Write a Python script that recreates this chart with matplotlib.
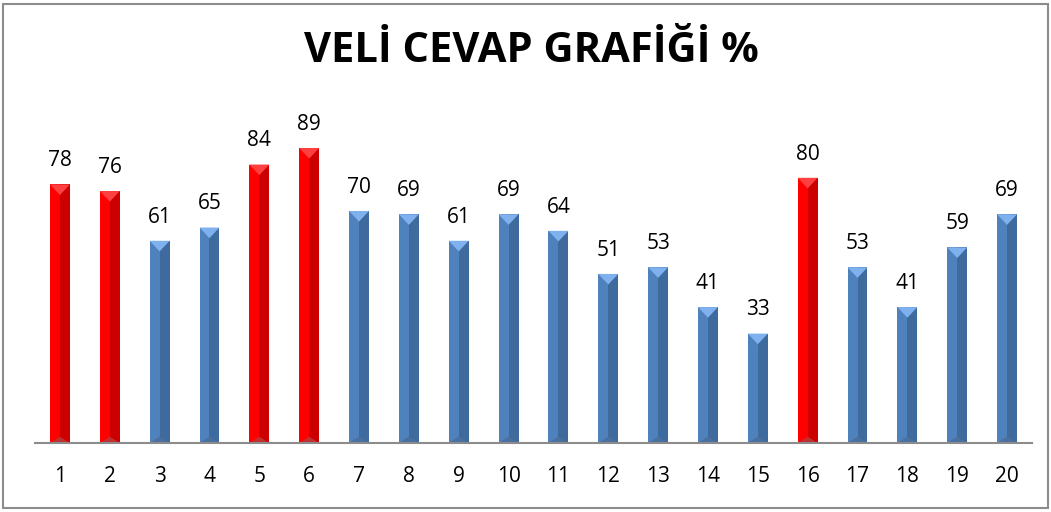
import matplotlib.pyplot as plt
from matplotlib.patches import Rectangle
import numpy as np

# data
categories = [str(i) for i in range(1, 21)]
values = [78, 76, 61, 65, 84, 89, 70, 69, 61, 69, 64, 51, 53, 41, 33, 80, 53, 41, 59, 69]
highlight = [1, 2, 5, 6, 16]

title = "VELİ CEVAP GRAFİĞİ %"

plt.rcParams['font.family'] = ['Open Sans', 'DejaVu Sans']

W, H = 1051, 512
fig = plt.figure(figsize=(W / 100, H / 100), dpi=100)
fig.patch.set_facecolor('white')

# axes placement in pixels
left, right, base, top = 35, 1032, 443, 111.5
ax = fig.add_axes([left / W, (H - base) / H, (right - left) / W, (base - top) / H])
ax.set_xlim(0.5, 20.5)
ax.set_ylim(0, 100)
ax.axis('off')

x = np.arange(1, 21)
bw = 0.4
for xi, v, lab in zip(x, values, categories):
    red = int(lab) in highlight
    c_left = '#FF0000' if red else '#4F81BD'
    c_right = '#CC0000' if red else '#3E6A9E'
    c_top = '#FF4040' if red else '#7EB1EE'
    c_bot = '#C03030' if red else '#4A70A0'
    ax.bar(xi - bw / 4, v, width=bw / 2, color=c_left, linewidth=0)
    ax.bar(xi + bw / 4, v, width=bw / 2, color=c_right, linewidth=0)
    tri_h = 3.2
    ax.fill([xi - bw / 2, xi + bw / 2, xi], [v, v, v - tri_h], color=c_top, linewidth=0)
    ax.fill([xi - bw / 2, xi + bw / 2, xi], [0, 0, tri_h * 0.6], color=c_bot, linewidth=0)
    ax.text(xi, v + 4, str(v), ha='center', va='bottom', fontsize=15, color='black')
    ax.text(xi, -7, lab, ha='center', va='top', fontsize=15, color='black')

ax.plot([0.5, 20.5], [0, 0], color='#8C8C8C', lw=1.5, clip_on=False)

fig.text(531 / W, 1 - 52 / H, title, ha='center', va='center', fontsize=30,
         fontweight='bold', fontstretch='condensed')

fig.patches.append(Rectangle((3 / W, 4 / H), 1045 / W, 504 / H, transform=fig.transFigure,
                             fill=False, edgecolor='#8C8C8C', lw=1.5))

fig.savefig('out.png', dpi=100)
